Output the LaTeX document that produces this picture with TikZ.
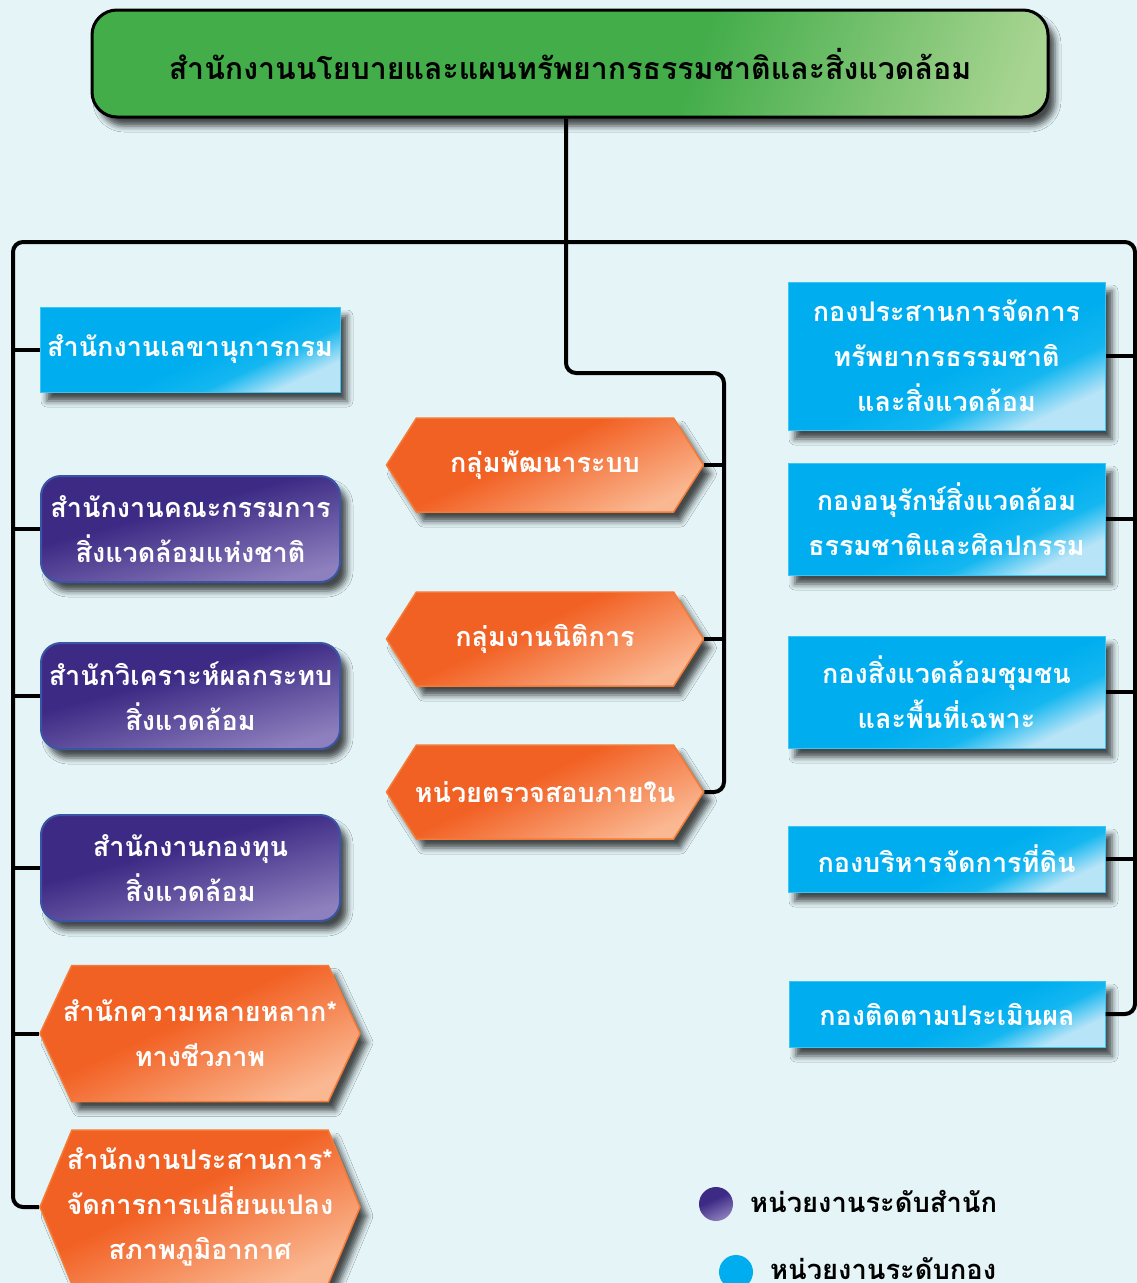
\documentclass[tikz,border=0pt]{standalone}
\usepackage{fontspec}
\newfontfamily\thai[Script=Thai]{Loma}
\usetikzlibrary{shapes.symbols,shadows.blur}
\newcommand\hxl[1]{\makebox[200pt][c]{#1}}
\definecolor{bgc}{HTML}{E4F4F7}
\definecolor{cyB}{HTML}{00AEEF}
\definecolor{cyM}{HTML}{14B7F0}
\definecolor{cyL}{HTML}{B8E4F7}
\definecolor{cyE}{HTML}{3CC4F2}
\definecolor{puB}{HTML}{3D2A85}
\definecolor{puL}{HTML}{8E80BE}
\definecolor{puE}{HTML}{3A55A5}
\definecolor{orB}{HTML}{F26124}
\definecolor{orL}{HTML}{FAB892}
\definecolor{orE}{HTML}{F47A36}
\definecolor{grB}{HTML}{43AD4A}
\definecolor{grL}{HTML}{A9D592}
\pgfdeclareverticalshading{cysh}{100bp}{color(0bp)=(cyL); color(26bp)=(cyL); color(36bp)=(cyM); color(46bp)=(cyB); color(100bp)=(cyB)}
\pgfdeclareverticalshading{push}{100bp}{color(0bp)=(puL); color(25bp)=(puL); color(58bp)=(puB); color(100bp)=(puB)}
\pgfdeclareverticalshading{orsh}{100bp}{color(0bp)=(orL); color(25bp)=(orL); color(55bp)=(orB); color(100bp)=(orB)}
\pgfdeclarehorizontalshading{grsh}{100bp}{color(0bp)=(grB); color(58bp)=(grB); color(80bp)=(grL); color(100bp)=(grL)}
\tikzset{
  conn/.style={line width=4pt, black, rounded corners=10pt},
  shad/.style={blur shadow={shadow xshift=7pt, shadow yshift=-9pt, shadow blur radius=6pt, shadow opacity=70}},
  boxtext/.style={text=white, font=\thai\bfseries\fontsize{27}{45}\selectfont, align=center, inner sep=0pt},
  cybox/.style={rectangle, shading=cysh, shading angle=25, draw=cyE, line width=1pt, shad, boxtext},
  pubox/.style={rectangle, rounded corners=20pt, shading=push, shading angle=15, draw=puE, line width=2pt, shad, boxtext},
  orhex/.style={signal, signal to=west and east, shading=orsh, shading angle=25, draw=orE, line width=1.5pt, shad, boxtext},
  legtext/.style={font=\thai\bfseries\fontsize{27.3}{30}\selectfont, text=black, anchor=west, inner sep=0pt}
}
\begin{document}
\begin{tikzpicture}[x=1pt,y=-1pt]
\useasboundingbox[fill=bgc] (0,0) rectangle (1137,1283);
% top
\node[rectangle, rounded corners=25pt, shading=grsh, shading angle=-20, draw=black, line width=3pt, shad,
  minimum width=956pt, minimum height=107pt, font=\thai\bfseries\fontsize{30.3}{34}\selectfont, inner sep=0pt]
  (top) at (570,63.5) {สำนักงานนโยบายและแผนทรัพยากรธรรมชาติและสิ่งแวดล้อม};
\coordinate (lb) at (13,242);
\coordinate (rb) at (1135,242);
\coordinate (mb) at (724,373);
% left column
\node[cybox, minimum width=300pt, minimum height=85pt] (l1) at (190,349.5) {สำนักงานเลขานุการกรม};
\node[pubox, minimum width=299pt, minimum height=106pt] (l2) at (190.5,529) {สำนักงานคณะกรรมการ\\สิ่งแวดล้อมแห่งชาติ};
\node[pubox, minimum width=299pt, minimum height=106pt] (l3) at (190.5,696) {สำนักวิเคราะห์ผลกระทบ\\สิ่งแวดล้อม};
\node[pubox, minimum width=299pt, minimum height=106pt] (l4) at (190.5,868) {สำนักงานกองทุน\\สิ่งแวดล้อม};
\node[orhex, minimum width=320pt, minimum height=136pt, signal pointer angle=130] (l5) at (200,1033.5) {\hxl{สำนักความหลายหลาก*}\\\hxl{ทางชีวภาพ}};
\node[orhex, minimum width=320pt, minimum height=154pt, signal pointer angle=135] (l6) at (200,1207) {\hxl{สำนักงานประสานการ*}\\\hxl{จัดการการเปลี่ยนแปลง}\\\hxl{สภาพภูมิอากาศ}};
% middle column
\node[orhex, minimum width=317pt, minimum height=94pt, signal pointer angle=115] (m1) at (545,465) {\hxl{กลุ่มพัฒนาระบบ}};
\node[orhex, minimum width=317pt, minimum height=94pt, signal pointer angle=115] (m2) at (545,639) {\hxl{กลุ่มงานนิติการ}};
\node[orhex, minimum width=317pt, minimum height=94pt, signal pointer angle=115] (m3) at (545,792) {\hxl{หน่วยตรวจสอบภายใน}};
% right column
\node[cybox, minimum width=317pt, minimum height=148pt] (r1) at (946.5,356) {กองประสานการจัดการ\\ทรัพยากรธรรมชาติ\\และสิ่งแวดล้อม};
\node[cybox, minimum width=317pt, minimum height=112pt] (r2) at (946.5,519) {กองอนุรักษ์สิ่งแวดล้อม\\ธรรมชาติและศิลปกรรม};
\node[cybox, minimum width=317pt, minimum height=112pt] (r3) at (946.5,692) {กองสิ่งแวดล้อมชุมชน\\และพื้นที่เฉพาะ};
\node[cybox, minimum width=317pt, minimum height=66pt] (r4) at (946.5,859) {กองบริหารจัดการที่ดิน};
\node[cybox, minimum width=316pt, minimum height=66pt] (r5) at (947,1014) {กองติดตามประเมินผล};
% connectors
\draw[conn] ([xshift=-4pt]top.south) -- (566,373) -- (mb) -- (724,792) -- (m3.east);
\draw[conn] (l6.west) -- (l6.west -| lb) -- (lb) -- (rb) -- (rb |- r5.east) -- (r5.east);
\foreach \n in {l1,l2,l3,l4,l5} \draw[conn] (\n.west) -- (\n.west -| lb);
\foreach \n in {r1,r2,r3,r4} \draw[conn] (\n.east) -- (\n.east -| rb);
\foreach \n in {m1,m2} \draw[conn] (\n.east) -- (\n.east -| mb);
% legend
\node[circle, shading=push, shading angle=25, minimum size=34pt, inner sep=0pt] (g1) at (716,1204) {};
\node[legtext] (t1) at (750,1201) {หน่วยงานระดับสำนัก};
\node[circle, fill=cyB, minimum size=34pt, inner sep=0pt] (g2) at (736,1272) {};
\node[legtext] (t2) at (770,1269) {หน่วยงานระดับกอง};
\end{tikzpicture}
\end{document}
